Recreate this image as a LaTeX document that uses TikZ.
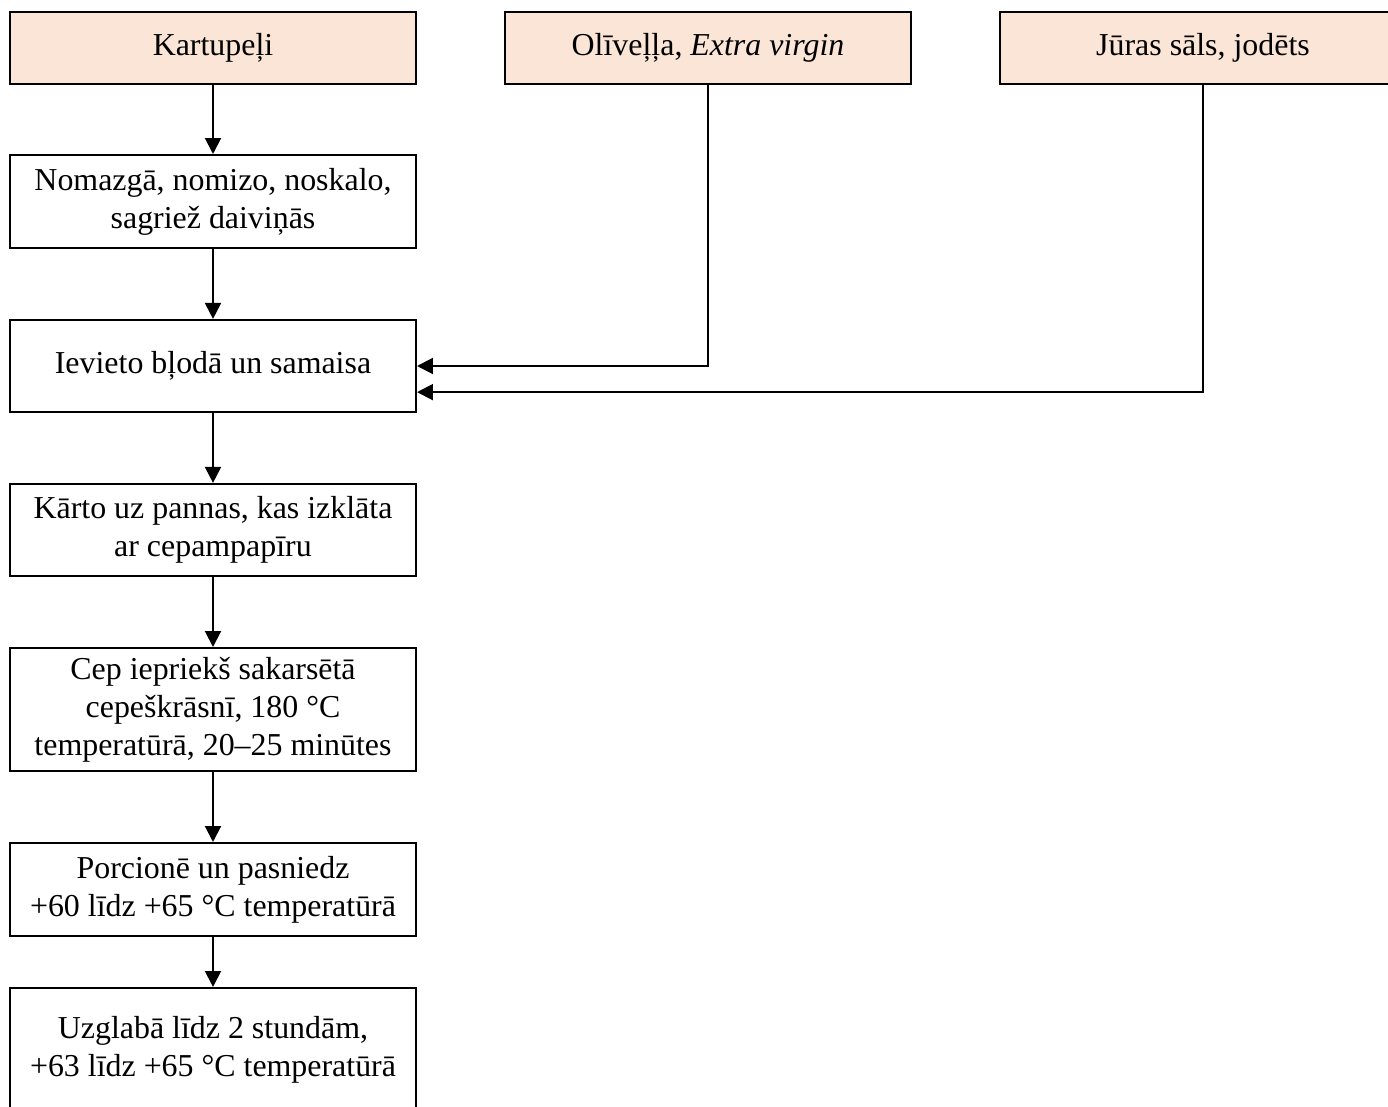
\documentclass[tikz,border=0pt]{standalone}
\usepackage{fontspec}
\setmainfont{Liberation Serif}
\usepackage{xcolor}
\usepackage{tikz}
\usetikzlibrary{arrows.meta}

\definecolor{ingfill}{HTML}{FBE5D6}

\begin{document}
\begin{tikzpicture}[
  x=0.3636pt, y=-0.3636pt,
  font=\fontsize{11.6pt}{13.8pt}\selectfont,
  stepbox/.style={draw,line width=0.75pt,align=center,minimum width=147.6pt,inner sep=3pt},
  ingbox/.style={stepbox,fill=ingfill,minimum height=26.2pt},
  arr/.style={-{Triangle[length=5.8pt,width=5.8pt]},line width=0.75pt}
]
\useasboundingbox (0,0) rectangle (1388,1107);

\node[ingbox] (kart) at (213,48) {Kartupeļi};
\node[ingbox] (oliv) at (708,48) {Olīveļļa, \textit{Extra virgin}};
\node[ingbox] (sals) at (1203,48) {Jūras sāls, jodēts};

\node[stepbox,minimum height=33.8pt] (mazga) at (213,201.5) {Nomazgā, nomizo, noskalo,\\sagriež daiviņās};
\node[stepbox,minimum height=33.5pt] (bloda) at (213,366) {Ievieto bļodā un samaisa};
\node[stepbox,minimum height=33.5pt] (karto) at (213,530) {Kārto uz pannas, kas izklāta\\ar cepampapīru};
\node[stepbox,minimum height=44.7pt] (cep) at (213,709.5) {Cep iepriekš sakarsētā\\cepeškrāsnī, 180 °C\\temperatūrā, 20–25 minūtes};
\node[stepbox,minimum height=33.8pt] (porc) at (213,889.5) {Porcionē un pasniedz\\+60 līdz +65 °C temperatūrā};
\node[stepbox,minimum height=45.1pt] (uzgl) at (213,1050) {Uzglabā līdz 2 stundām,\\+63 līdz +65 °C temperatūrā};

\draw[arr] (kart) -- (mazga);
\draw[arr] (mazga) -- (bloda);
\draw[arr] (bloda) -- (karto);
\draw[arr] (karto) -- (cep);
\draw[arr] (cep) -- (porc);
\draw[arr] (porc) -- (uzgl);
\draw[arr] (oliv.south) |- (bloda.east);
\draw[arr] (sals.south) |- ([yshift=-9.5pt]bloda.east);

\end{tikzpicture}
\end{document}
